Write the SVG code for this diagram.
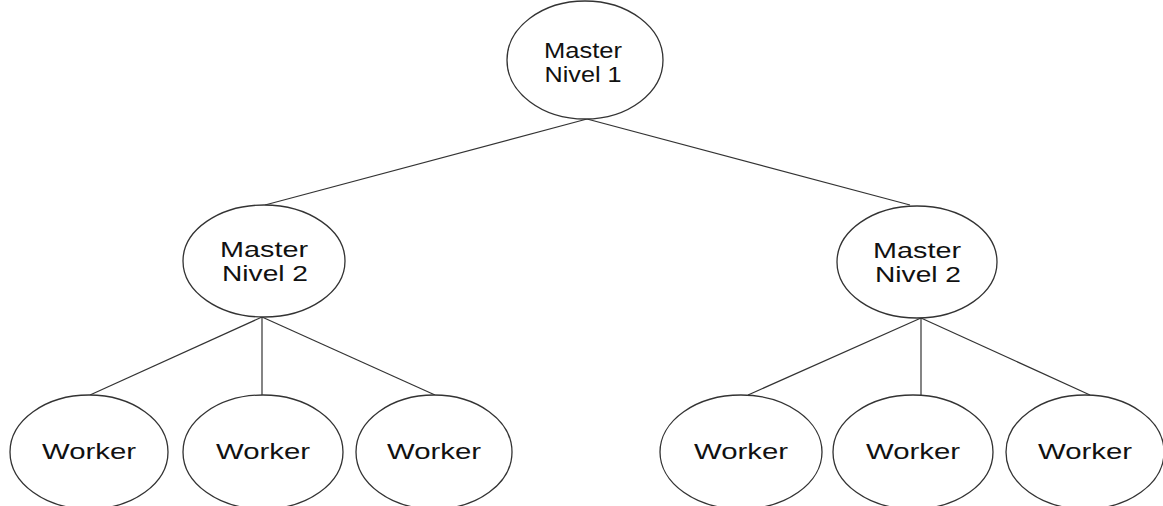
<svg xmlns="http://www.w3.org/2000/svg" width="1163" height="506" viewBox="0 0 1163 506">
  <style>
    .node ellipse { fill: #ffffff; stroke: #333333; stroke-width: 1.3; }
    .node text { font-family: "Liberation Sans", Arial, sans-serif; font-size: 22px; fill: #111111; text-anchor: middle; }
    #connectors line { stroke: #333333; stroke-width: 1.2; }
  </style>
  <rect width="1163" height="506" fill="#ffffff"/>

  <!-- tree edges -->
  <g id="connectors">
    <line x1="587" y1="119" x2="265" y2="205"/>
    <line x1="587" y1="119" x2="910" y2="205"/>
    <line x1="262" y1="317" x2="90" y2="395"/>
    <line x1="262" y1="317" x2="262" y2="395"/>
    <line x1="262" y1="317" x2="435" y2="395"/>
    <line x1="921" y1="318" x2="748" y2="395"/>
    <line x1="921" y1="318" x2="921" y2="395"/>
    <line x1="921" y1="318" x2="1090" y2="395"/>
  </g>

  <g id="master-nivel-1" class="node">
    <ellipse cx="585" cy="60" rx="78" ry="59"/>
    <text x="583" y="58" textLength="78" lengthAdjust="spacingAndGlyphs">Master</text>
    <text x="583" y="82" textLength="77" lengthAdjust="spacingAndGlyphs">Nivel 1</text>
  </g>

  <g id="master-nivel-2-left" class="node">
    <ellipse cx="264" cy="261" rx="81" ry="56"/>
    <text x="264" y="257" textLength="88" lengthAdjust="spacingAndGlyphs">Master</text>
    <text x="265" y="281" textLength="86" lengthAdjust="spacingAndGlyphs">Nivel 2</text>
  </g>

  <g id="master-nivel-2-right" class="node">
    <ellipse cx="917" cy="262" rx="80" ry="56"/>
    <text x="917" y="258" textLength="88" lengthAdjust="spacingAndGlyphs">Master</text>
    <text x="918" y="282" textLength="86" lengthAdjust="spacingAndGlyphs">Nivel 2</text>
  </g>

  <g id="worker-1" class="node">
    <ellipse cx="89" cy="452" rx="79" ry="57"/>
    <text x="89" y="459" textLength="94" lengthAdjust="spacingAndGlyphs">Worker</text>
  </g>
  <g id="worker-2" class="node">
    <ellipse cx="263" cy="452" rx="80" ry="57"/>
    <text x="263" y="459" textLength="94" lengthAdjust="spacingAndGlyphs">Worker</text>
  </g>
  <g id="worker-3" class="node">
    <ellipse cx="434" cy="452" rx="78" ry="57"/>
    <text x="434" y="459" textLength="94" lengthAdjust="spacingAndGlyphs">Worker</text>
  </g>
  <g id="worker-4" class="node">
    <ellipse cx="741" cy="452" rx="81" ry="57"/>
    <text x="741" y="459" textLength="94" lengthAdjust="spacingAndGlyphs">Worker</text>
  </g>
  <g id="worker-5" class="node">
    <ellipse cx="913" cy="452" rx="80" ry="57"/>
    <text x="913" y="459" textLength="94" lengthAdjust="spacingAndGlyphs">Worker</text>
  </g>
  <g id="worker-6" class="node">
    <ellipse cx="1085" cy="452" rx="79" ry="57"/>
    <text x="1085" y="459" textLength="94" lengthAdjust="spacingAndGlyphs">Worker</text>
  </g>
</svg>
